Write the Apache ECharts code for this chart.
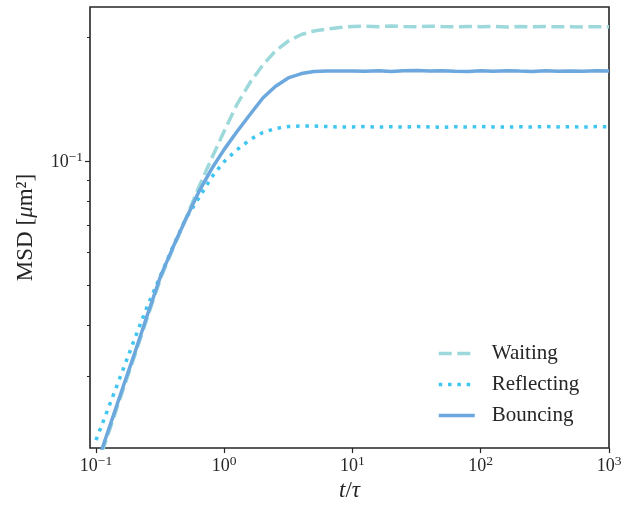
<!DOCTYPE html>
<html><head><meta charset="utf-8">
<script src="https://cdn.jsdelivr.net/npm/echarts@6/dist/echarts.min.js"></script>
<style>html,body{margin:0;padding:0;background:#fff}#c{width:638px;height:509px}</style>
</head><body><div id="c"></div>
<script>
// ---- data ----
const tValues = [0.1,0.125,0.16,0.2,0.25,0.32,0.4,0.5,0.63,0.8,1,1.25,1.6,2,2.5,3.2,4,5,6.3,8,
  10,12.5,16,20,25,32,40,50,63,80,100,125,160,200,250,320,400,500,630,800,1000];
const waiting = [0.01778,0.02182,0.02742,0.03362,0.04147,0.05200,0.06150,0.07233,0.08601,0.1017,
  0.1182,0.1368,0.1555,0.1710,0.1849,0.1961,0.2028,0.2068,0.2091,0.2109,
  0.2121,0.2124,0.2119,0.2127,0.2122,0.2118,0.2125,0.2120,0.2116,0.2122,0.2119,0.2123,0.2115,0.2121,0.2118,0.2120,0.2117,0.2119,0.2116,0.2118,0.2117];
const reflecting = [0.02100,0.02516,0.03076,0.03698,0.04421,0.05288,0.06220,0.07233,0.08110,0.09146,
  0.09972,0.1063,0.1128,0.1173,0.1199,0.1213,0.1216,0.1216,0.1212,0.1209,
  0.1210,0.1212,0.1209,0.1211,0.1208,0.1212,0.1210,0.1207,0.1211,0.1209,0.1212,0.1210,0.1208,0.1211,0.1209,0.1212,0.1210,0.1211,0.1209,0.1212,0.1211];
const bouncing = [0.01808,0.02221,0.02787,0.03412,0.04205,0.05269,0.06188,0.07210,0.08386,0.09585,
  0.1067,0.1176,0.1300,0.1422,0.1516,0.1594,0.1630,0.1649,0.1654,0.1654,
  0.1654,0.1652,0.1657,0.1650,0.1655,0.1658,0.1653,0.1656,0.1651,0.1648,0.1655,0.1652,0.1657,0.1653,0.1650,0.1655,0.1652,0.1654,0.1651,0.1655,0.1653];
const seriesNames = ['Waiting','Reflecting','Bouncing'];
const xTicks = [0.1,1,10,100,1000];
const yMajorTicks = [0.1];
const yMinorTicks = [0.03,0.04,0.05,0.06,0.07,0.08,0.09,0.2];
const xRange = [0.0898, 1000];
const yRange = [0.0201, 0.2365];

// ---- chart ----
const FONT = '"Liberation Serif", "DejaVu Serif", serif';
const INK = '#262626';
function pow10Label(v){
  const e = Math.round(Math.log10(v));
  return '{b|10}{s|' + (e < 0 ? '\u2212' + (-e) : String(e)) + '}';
}
const tickRich = {
  b:{fontFamily:FONT,fontSize:18,color:INK,lineHeight:21,verticalAlign:'bottom'},
  s:{fontFamily:FONT,fontSize:13.5,color:INK,lineHeight:13,verticalAlign:'top'}
};
const pair = a => tValues.map((t,i)=>[t,a[i]]);
const chart = echarts.init(document.getElementById('c'), null, {renderer:'canvas'});
chart.setOption({
  animation:false,
  backgroundColor:'#fff',
  grid:{left:90,right:29,top:7,bottom:61,show:true,borderColor:INK,borderWidth:1.6,backgroundColor:'transparent'},
  xAxis:{type:'log',logBase:10,min:xRange[0],max:xRange[1],
    axisLine:{show:false},splitLine:{show:false},minorTick:{show:false},
    axisTick:{show:true,length:5,customValues:xTicks,lineStyle:{color:INK,width:1.2}},
    axisLabel:{customValues:xTicks,formatter:pow10Label,rich:tickRich,margin:6},
    name:'{i|t}{n|/}{i|\u03c4}',nameLocation:'middle',nameGap:30,
    nameTextStyle:{rich:{i:{fontFamily:FONT,fontSize:23,fontStyle:'italic',color:INK},n:{fontFamily:FONT,fontSize:23,color:INK}}}
  },
  yAxis:[{type:'log',logBase:10,min:yRange[0],max:yRange[1],
    axisLine:{show:false},splitLine:{show:false},
    axisTick:{show:true,length:5,customValues:yMajorTicks,lineStyle:{color:INK,width:1.2}},
    axisLabel:{customValues:yMajorTicks,formatter:pow10Label,rich:tickRich,margin:7},
    name:'{n|MSD [}{i|\u03bc}{n|m\u00b2]}',nameLocation:'middle',nameGap:53,nameRotate:90,
    nameTextStyle:{rich:{i:{fontFamily:FONT,fontSize:23,fontStyle:'italic',color:INK},n:{fontFamily:FONT,fontSize:23,color:INK}}}
  },{type:'log',logBase:10,min:yRange[0],max:yRange[1],position:'left',
    axisLine:{show:false},splitLine:{show:false},axisLabel:{show:false},
    axisTick:{show:true,length:3,customValues:yMinorTicks,lineStyle:{color:INK,width:1}}
  }],
  legend:{orient:'vertical',left:432,top:338,itemWidth:36,itemHeight:20,itemGap:10,
    data:seriesNames,
    itemStyle:{color:'rgba(0,0,0,0)',borderWidth:0,opacity:0},
    lineStyle:{width:3.5},
    textStyle:{fontFamily:FONT,fontSize:21,color:INK,lineHeight:20,padding:[0,0,0,12]}},
  series:[
    {name:seriesNames[0],type:'line',data:pair(waiting),symbol:'none',smooth:false,
      lineStyle:{color:'#9dd9db',width:3.5,type:[13,5.5],cap:'butt'},itemStyle:{color:'#9dd9db'}},
    {name:seriesNames[1],type:'line',data:pair(reflecting),symbol:'none',smooth:false,
      lineStyle:{color:'#3ec5f0',width:3.5,type:[3.5,5.8],cap:'butt'},itemStyle:{color:'#3ec5f0'}},
    {name:seriesNames[2],type:'line',data:pair(bouncing),symbol:'none',smooth:false,
      lineStyle:{color:'#6ca7dd',width:3.5,type:'solid'},itemStyle:{color:'#6ca7dd'}}
  ]
});
</script></body></html>
